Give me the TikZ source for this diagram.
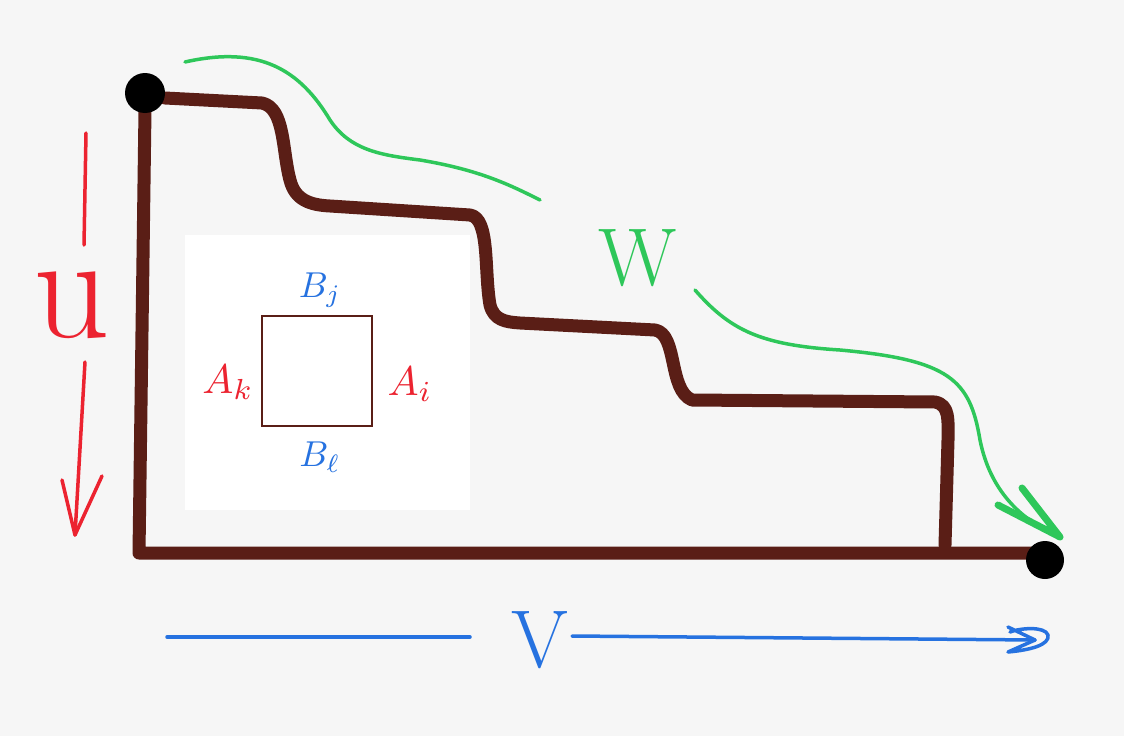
\documentclass[tikz,border=0pt]{standalone}
\usetikzlibrary{calc}
\definecolor{paper}{HTML}{F6F6F6}
\definecolor{brownink}{HTML}{5A1E16}
\definecolor{redink}{HTML}{EC2330}
\definecolor{blueink}{HTML}{2672E0}
\definecolor{greenink}{HTML}{2EC75A}
\tikzset{
  marker/.style={line width=13pt, brownink, line cap=round, line join=round},
  pen/.style={line width=3.5pt, line cap=round, line join=round},
  lbl/.style={inner sep=0pt, anchor=center},
  sqlbl/.style={inner sep=0pt, anchor=center, scale=3.6},
}
\begin{document}
\begin{tikzpicture}[x=1pt,y=-1pt]
\useasboundingbox (0,0) rectangle (1124,736);
\fill[paper] (0,0) rectangle (1124,736);
\fill[white] (185,235) rectangle (470,510);

% axes
\coordinate (o) at (139,553);
\coordinate (tl) at (145,93);
\coordinate (br) at (1045,560);
\draw[marker] (145,110) -- (139,553) -- (1030,553);

% staircase
\draw[marker] (165,98) -- (262,103)
  .. controls (285,108) and (282,150) .. (290,180)
  .. controls (295,200) and (310,205) .. (330,206)
  -- (470,215)
  .. controls (490,218) and (484,270) .. (490,305)
  .. controls (494,320) and (505,322) .. (520,323)
  -- (655,330)
  .. controls (678,334) and (668,390) .. (692,400)
  -- (935,402)
  .. controls (950,405) and (948,420) .. (948,440)
  -- (945,545);

% dots
\node[circle, fill=black, minimum size=40pt, inner sep=0pt] (dtl) at (tl) {};
\node[circle, fill=black, minimum size=38pt, inner sep=0pt] (dbr) at (br) {};

% green curve and W arrow
\draw[pen, greenink] (185,62) .. controls (260,45) and (300,70) .. (330,120)
  .. controls (350,150) and (380,155) .. (420,160)
  .. controls (480,170) and (510,185) .. (540,200);
\node[lbl, greenink, font=\fontsize{82}{82}\selectfont] (w) at (638,258) {W};
\coordinate (gs) at (695,290);
\coordinate (gt) at (1060,537);
\draw[pen, greenink] (gs) .. controls (730,330) and (760,345) .. (840,350)
  .. controls (950,360) and (970,380) .. (980,440)
  .. controls (990,490) and (1020,520) .. (gt);
\draw[pen, greenink, line width=7pt] (1022,488) -- (gt) -- (998,505);

% red u arrow
\node[lbl, redink, font=\fontsize{150}{150}\selectfont] (u) at (72,305) {u};
\coordinate (ra) at (86,133);
\coordinate (rb) at (84,245);
\coordinate (rc) at (85,362);
\coordinate (rd) at (75,535);
\draw[pen, redink] (ra) -- (rb);
\draw[pen, redink] (rc) -- (rd);
\draw[pen, redink] (62,480) -- (rd) -- (102,476);

% blue V arrow
\node[lbl, blueink, font=\fontsize{82}{82}\selectfont] (v) at (540,640) {V};
\coordinate (ba) at (167,637);
\coordinate (bb) at (470,637);
\coordinate (bc) at (572,636);
\coordinate (bd) at (1035,640);
\draw[pen, blueink] (ba) -- (bb);
\draw[pen, blueink] (bc) -- (bd);
\draw[pen, blueink] (1008,627) -- (bd) -- (1008,652)
  .. controls (1030,650) and (1050,645) .. (1048,635)
  .. controls (1045,626) and (1020,628) .. (1010,632);

% small square
\draw[brownink, line width=2.5pt] (262,316) rectangle (372,426);
\node[sqlbl, blueink] (bj) at (320,290) {$B_j$};
\node[sqlbl, blueink] (bl) at (320,457) {$B_\ell$};
\node[sqlbl, redink, scale=1.15] (ak) at (228,382) {$A_k$};
\node[sqlbl, redink, scale=1.15] (ai) at (410,384) {$A_i$};
\end{tikzpicture}
\end{document}
